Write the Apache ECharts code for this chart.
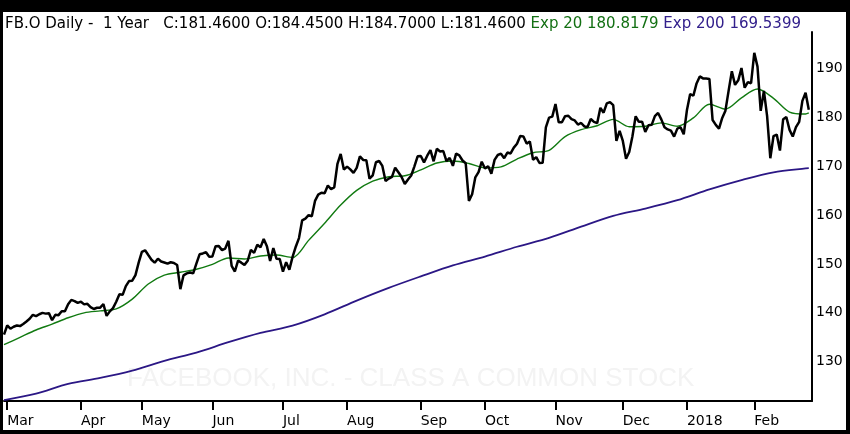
<!DOCTYPE html>
<html><head><meta charset="utf-8">
<script src="https://cdn.jsdelivr.net/npm/echarts@6/dist/echarts.min.js"></script>
<style>
html,body{margin:0;padding:0;background:#000;width:850px;height:434px;overflow:hidden}
#c{position:absolute;left:3px;top:12px;width:843px;height:418px;background:#fff}
</style></head><body><div id="c"></div>
<script>
// ---- categories (trading days) ----
const months = ['2017-02','2017-03','2017-04','2017-05','2017-06','2017-07','2017-08','2017-09','2017-10','2017-11','2017-12','2018-01','2018-02'];
const monthLabels = ['', 'Mar','Apr','May','Jun','Jul','Aug','Sep','Oct','Nov','Dec','2018','Feb'];
const monthDays = [
  [28],
  [1,2,3,6,7,8,9,10,13,14,15,16,17,20,21,22,23,24,27,28,29,30,31],
  [3,4,5,6,7,10,11,12,13,17,18,19,20,21,24,25,26,27,28],
  [1,2,3,4,5,8,9,10,11,12,15,16,17,18,19,22,23,24,25,26,30,31],
  [1,2,5,6,7,8,9,12,13,14,15,16,19,20,21,22,23,26,27,28,29,30],
  [3,5,6,7,10,11,12,13,14,17,18,19,20,21,24,25,26,27,28,31],
  [1,2,3,4,7,8,9,10,11,14,15,16,17,18,21,22,23,24,25,28,29,30,31],
  [1,5,6,7,8,11,12,13,14,15,18,19,20,21,22,25,26,27,28,29],
  [2,3,4,5,6,9,10,11,12,13,16,17,18,19,20,23,24,25,26,27,30,31],
  [1,2,3,6,7,8,9,10,13,14,15,16,17,20,21,22,24,27,28,29,30],
  [1,4,5,6,7,8,11,12,13,14,15,18,19,20,21,22,26,27,28,29],
  [2,3,4,5,8,9,10,11,12,16,17,18,19,22,23,24,25,26,29,30,31],
  [1,2,5,6,7,8,9,12,13,14,15,16,20,21,22,23,26,27]
];
const padDate = '2018-02-28';

// ---- daily close ----
const closes = [
  135.54,
  137.42,136.76,137.17,137.42,137.30,137.72,138.24,138.79,139.60,139.32,139.72,139.99,139.84,139.94,138.51,139.59,139.53,140.34,140.32,141.76,142.65,142.41,142.05,
  142.28,141.73,141.85,141.17,140.78,141.04,141.06,141.80,139.39,140.30,140.96,142.27,143.80,143.68,145.47,146.49,146.56,147.70,150.25,
  152.46,152.78,151.80,150.85,150.24,151.06,150.48,150.29,150.04,150.33,150.19,149.78,144.85,147.66,148.06,148.24,148.07,150.04,151.96,152.13,152.38,151.46,
  151.53,153.61,153.63,152.81,153.12,154.71,149.60,148.44,150.68,150.25,149.80,150.64,152.87,152.25,153.91,153.40,155.07,153.59,150.58,153.24,151.04,150.98,
  148.43,150.34,148.82,151.44,153.50,155.27,158.90,159.26,159.97,159.73,162.86,164.14,164.53,164.43,166.00,165.28,165.61,170.44,172.45,169.25,
  169.86,169.30,168.59,169.62,171.98,171.23,171.18,167.40,168.08,170.75,171.00,170.00,166.91,167.41,167.78,169.64,168.71,167.74,166.32,167.24,168.05,169.92,171.97,
  172.02,170.72,172.09,173.21,170.95,173.51,172.96,173.05,170.96,171.64,170.01,172.52,172.17,171.11,170.54,162.87,164.21,167.68,168.73,170.87,
  169.47,169.96,168.42,171.24,172.23,172.50,171.59,172.74,172.55,173.74,174.52,176.11,176.03,174.56,174.98,171.27,171.80,170.60,170.63,177.88,179.87,180.06,
  182.66,178.92,178.92,180.17,180.25,179.56,179.30,178.46,178.77,178.07,177.95,179.59,179.00,178.74,181.86,180.87,182.78,183.03,182.42,175.13,177.18,
  175.10,171.47,172.83,176.06,180.14,179.00,179.04,176.96,178.30,178.39,180.18,180.82,179.51,177.89,177.45,177.20,175.99,177.62,177.92,176.46,
  181.42,184.67,184.33,186.85,188.28,187.87,187.84,187.77,179.37,178.39,177.60,179.80,181.29,185.37,189.35,186.55,187.48,190.00,185.98,187.12,186.89,
  193.09,190.28,181.26,185.31,180.18,171.58,176.11,176.41,173.15,179.52,179.96,177.36,176.01,177.91,178.99,183.29,184.93,181.46
];

const ema20Day = [0,5,10,15,20,25,30,35,40,45,50,55,60,65,70,75,80,85,90,95,100,105,110,115,120,125,130,135,140,145,150,155,160,165,170,175,180,185,190,195,200,205,210,215,220,225,230,235,240,245,250,251];
const ema20 = [133.5,135.0,136.5,137.7,139.0,140.0,140.4,140.8,142.8,145.9,147.7,148.3,148.9,149.9,151.2,151.0,151.6,151.8,151.3,154.8,158.3,162.0,165.0,166.9,167.8,168.0,169.2,170.6,171.0,170.5,169.6,169.8,171.4,172.7,173.2,176.0,177.4,178.2,179.5,178.0,178.1,178.8,178.1,179.8,182.6,181.6,183.9,185.7,183.8,181.0,180.6,180.82];

// ---- Exp 200 ----
const ema200Day = [0,10,20,30,40,50,60,70,80,90,100,110,120,130,140,150,160,170,180,190,200,210,220,230,240,250,251];
const ema200 = [122.2,123.5,125.5,126.7,128.2,130.2,131.9,134.0,135.9,137.4,139.7,142.5,145.1,147.45,149.7,151.5,153.5,155.3,157.6,159.8,161.3,163.0,165.2,167.1,168.7,169.5,169.54];

const yTicks = [130,140,150,160,170,180,190];
const header = {name:'FB.O Daily -  1 Year', close:'181.4600', open:'184.4500', high:'184.7000', low:'181.4600', e20:'180.8179', e200:'169.5399'};
const watermark = 'FACEBOOK, INC. - CLASS A COMMON STOCK';

// ---- build ----
const dates = [];
const tickLabel = {};
months.forEach((m, mi) => {
  monthDays[mi].forEach((d, di) => {
    const s = m + '-' + String(d).padStart(2, '0');
    if (di === 0 && monthLabels[mi]) tickLabel[s] = monthLabels[mi];
    dates.push(s);
  });
});
dates.push(padDate);
const isTick = (i, v) => Object.prototype.hasOwnProperty.call(tickLabel, v);

const FONT = 'DejaVu Sans';
const chart = echarts.init(document.getElementById('c'), null, {renderer: 'canvas'});
chart.setOption({
  animation: false,
  backgroundColor: '#fff',
  title: {
    left: 2, top: 3, padding: 0,
    text: '{k|' + header.name + '   C:' + header.close + ' O:' + header.open + ' H:' + header.high + ' L:' + header.low + ' }{g|Exp 20 ' + header.e20 + ' }{b|Exp 200 ' + header.e200 + '}',
    textStyle: {
      fontFamily: FONT, fontSize: 15, fontWeight: 'normal',
      rich: {
        k: {color: '#000', fontFamily: FONT, fontSize: 15, lineHeight: 18},
        g: {color: '#137013', fontFamily: FONT, fontSize: 15, lineHeight: 18},
        b: {color: '#33208c', fontFamily: FONT, fontSize: 15, lineHeight: 18}
      }
    }
  },
  graphic: [{
    type: 'text', left: 124, top: 354, z: 0,
    style: {text: watermark, font: '26px "Liberation Sans"', fill: '#f3f3f3'}
  }],
  grid: {left: 1, right: 34, top: 20, bottom: 29, containLabel: false},
  xAxis: {
    type: 'category', data: dates, boundaryGap: false,
    axisLine: {show: true, lineStyle: {color: '#000', width: 2}},
    axisTick: {show: true, interval: isTick, length: 9, lineStyle: {color: '#000', width: 2}},
    axisLabel: {
      interval: isTick, align: 'left', margin: 13,
      color: '#000', fontFamily: FONT, fontSize: 14,
      formatter: v => tickLabel[v] || ''
    },
    splitLine: {show: false}
  },
  yAxis: {
    type: 'value', position: 'right', min: 122, max: 197.35, scale: true,
    axisLine: {show: true, lineStyle: {color: '#000', width: 2}},
    axisTick: {show: false},
    splitLine: {show: false},
    axisLabel: {customValues: yTicks, color: '#000', fontFamily: FONT, fontSize: 14, margin: 4}
  },
  series: [
    {
      name: 'Exp 200', type: 'line', symbol: 'none', z: 2, smooth: 0.3,
      data: ema200Day.map((d, i) => [d, ema200[i]]),
      lineStyle: {color: '#2b1785', width: 1.8}
    },
    {
      name: 'Exp 20', type: 'line', symbol: 'none', z: 3, smooth: 0.3,
      data: ema20Day.map((d, i) => [d, ema20[i]]),
      lineStyle: {color: '#117a11', width: 1.4}
    },
    {
      name: 'Close', type: 'line', symbol: 'none', z: 4,
      data: closes,
      lineStyle: {color: '#000', width: 2.5}
    }
  ]
});
</script></body></html>
